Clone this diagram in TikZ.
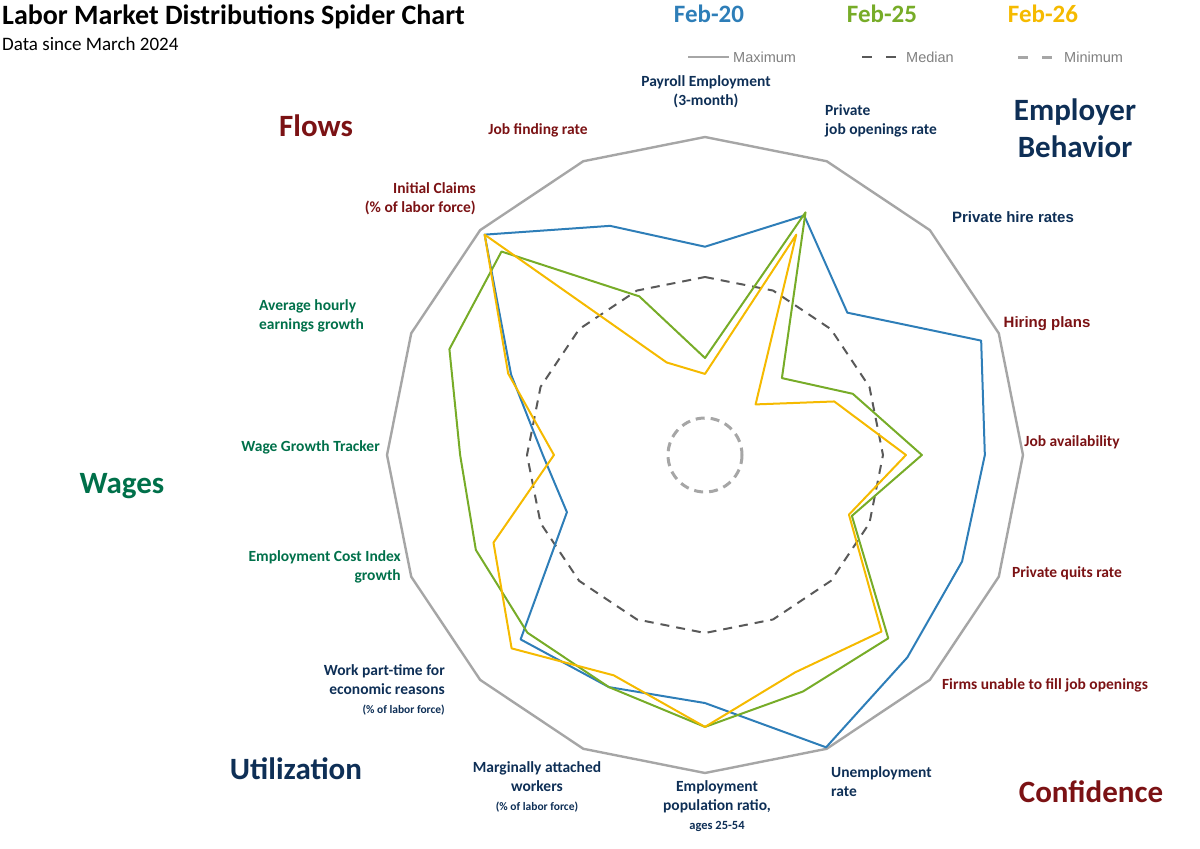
\documentclass[tikz,border=0pt]{standalone}
\usepackage{fontspec}
\setmainfont{Carlito}
\newfontfamily\arialf{Liberation Sans}
\begin{document}
\definecolor{cblue}{HTML}{2E7EB8}
\definecolor{cgreen}{HTML}{77AC28}
\definecolor{cyel}{HTML}{F5BA00}
\definecolor{dred}{HTML}{7B1214}
\definecolor{navy}{HTML}{0E2F56}
\definecolor{wgreen}{HTML}{00704A}
\definecolor{gmax}{HTML}{A6A6A6}
\definecolor{gmed}{HTML}{595959}
\begin{tikzpicture}[x=1pt,y=-1pt,
  lab/.style={font=\bfseries\fontsize{15.5}{19}\selectfont, inner sep=0pt, align=center},
  alab/.style={font=\arialf\bfseries\fontsize{15}{19}\selectfont, inner sep=0pt},
  grp/.style={font=\bfseries\fontsize{31}{37}\selectfont, inner sep=0pt, align=center},
  leg/.style={font=\bfseries\fontsize{25}{28}\selectfont, inner sep=0pt},
  legt/.style={font=\arialf\fontsize{14.5}{16}\selectfont, text=gray, inner sep=0pt},
  maxl/.style={gmax, line width=2.4pt, line join=round},
  medl/.style={gmed, line width=2pt, dash pattern=on 9pt off 7pt},
  minl/.style={gmax, line width=3pt, dash pattern=on 9pt off 6pt},
  ser/.style={line width=2pt, line join=round}]
\useasboundingbox (0,0) rectangle (1200,849);
\coordinate (C) at (705,455);
\draw[maxl] \foreach \k in {0,...,15}{ \ifnum\k=0 ({705+318*sin(\k*22.5)},{455-318*cos(\k*22.5)}) \else -- ({705+318*sin(\k*22.5)},{455-318*cos(\k*22.5)}) \fi } -- cycle;
\draw[medl] \foreach \k in {0,...,15}{ \ifnum\k=0 ({705+178*sin(\k*22.5)},{455-178*cos(\k*22.5)}) \else -- ({705+178*sin(\k*22.5)},{455-178*cos(\k*22.5)}) \fi } -- cycle;
\draw[minl] (C) circle[radius=37];
\newcommand{\series}[2]{%
  \draw[ser,#1] \foreach \v [count=\i from 0] in {#2}{ \ifnum\i=0 ({705+318*\v*sin(\i*22.5)},{455-318*\v*cos(\i*22.5)}) \else -- ({705+318*\v*sin(\i*22.5)},{455-318*\v*cos(\i*22.5)}) \fi } -- cycle;}
\series{cblue}{0.655,0.815,0.633,0.94,0.88,0.875,0.90,0.995,0.78,0.79,0.82,0.47,0.51,0.66,0.98,0.78}
\series{cgreen}{0.305,0.826,0.342,0.503,0.682,0.50,0.815,0.805,0.855,0.79,0.79,0.78,0.77,0.87,0.905,0.54}
\series{cyel}{0.255,0.75,0.225,0.44,0.632,0.49,0.785,0.74,0.855,0.75,0.86,0.72,0.475,0.67,0.98,0.315}
% title
\node[anchor=west, inner sep=0pt, font=\bfseries\fontsize{28}{30}\selectfont] (t) at (2,17) {Labor Market Distributions Spider Chart};
\node[anchor=west, inner sep=0pt, font=\fontsize{19}{22}\selectfont] (st) at (2,44) {Data since March 2024};
% legend
\node[leg, text=cblue] (l1) at (709,14) {Feb-20};
\node[leg, text=cgreen] (l2) at (882,14) {Feb-25};
\node[leg, text=cyel] (l3) at (1043,14) {Feb-26};
\coordinate (m1) at (688,57); \coordinate (m2) at (729,57);
\draw[gmax, line width=2pt] (m1) -- (m2);
\node[legt, anchor=west] (mt) at (733,57) {Maximum};
\coordinate (d1) at (862,57); \coordinate (d2) at (896,57);
\draw[gmed, line width=2.5pt, dash pattern=on 10pt off 14pt] (d1) -- (d2);
\node[legt, anchor=west] (dt) at (906,57) {Median};
\coordinate (n1) at (1018,57); \coordinate (n2) at (1052,57);
\draw[gmax, line width=3pt, dash pattern=on 10pt off 14pt] (n1) -- (n2);
\node[legt, anchor=west] (nt) at (1064,57) {Minimum};
% groups
\node[grp, text=dred] (g1) at (316,126) {Flows};
\node[grp, text=navy] (g2) at (1075,128) {Employer\\Behavior};
\node[grp, text=wgreen] (g3) at (122,486) {Wages};
\node[grp, text=navy] (g4) at (296,769) {Utilization};
\node[grp, text=dred] (g5) at (1091,792) {Confidence};
% axis labels
\node[lab, text=navy] (a0) at (706,92) {Payroll Employment\\(3-month)};
\node[lab, text=navy, anchor=west, align=left] (a1) at (825,121) {Private\\job openings rate};
\node[alab, text=navy] (a2) at (1013,217) {Private hire rates};
\node[alab, text=dred] (a3) at (1047,324) {Hiring plans};
\node[lab, text=dred] (a4) at (1072,442) {Job availability};
\node[lab, text=dred] (a5) at (1067,573) {Private quits rate};
\node[lab, text=dred] (a6) at (1045,685) {Firms unable to fill job openings};
\node[lab, text=navy, anchor=west, align=left] (a7) at (831,782) {Unemployment\\rate};
\node[lab, text=navy] (a8) at (717,806) {Employment\\population ratio,\\{\fontsize{12.5}{16}\selectfont ages 25-54}};
\node[lab, text=navy] (a9) at (537,787) {Marginally attached\\workers\\{\fontsize{11.5}{15}\selectfont (\% of labor force)}};
\node[lab, text=navy, anchor=east, align=right] (a10) at (445,690) {Work part-time for\\economic reasons\\{\fontsize{11.5}{15}\selectfont (\% of labor force)}};
\node[lab, text=wgreen, anchor=east, align=right] (a11) at (401,567) {Employment Cost Index\\growth};
\node[lab, text=wgreen, anchor=east] (a12) at (380,447) {Wage Growth Tracker};
\node[lab, text=wgreen, anchor=west, align=left] (a13) at (259,316) {Average hourly\\earnings growth};
\node[lab, text=dred, anchor=east, align=right] (a14) at (476,199) {Initial Claims\\(\% of labor force)};
\node[lab, text=dred] (a15) at (538,130) {Job finding rate};
\end{tikzpicture}
\end{document}
